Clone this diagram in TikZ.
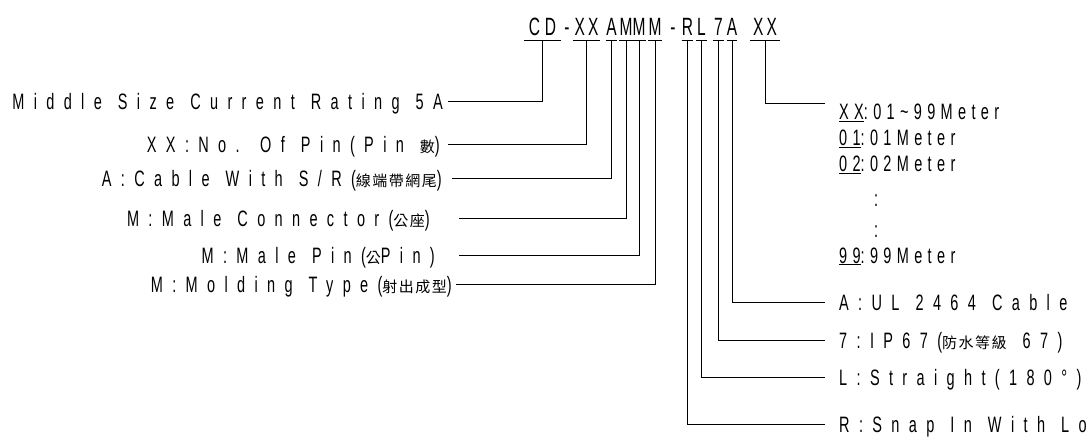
\documentclass[tikz,border=0pt]{standalone}
\usepackage{fontspec}
\setmainfont{Liberation Sans}
\newfontfamily\cadfont{Liberation Sans}[FakeStretch=0.65, LetterSpace=42, WordSpace=1.2]
\newfontfamily\meterfont{Liberation Sans}[FakeStretch=0.65, LetterSpace=24]
\newfontfamily\codefont{Liberation Sans}[FakeStretch=0.62]
\newfontfamily\cjkfont{Noto Sans CJK TC}[LetterSpace=10]
\newcommand{\zh}[1]{{\cjkfont\fontsize{15}{16}\selectfont #1}}
\tikzset{
  lbl/.style={font=\cadfont\fontsize{22.3}{24}\selectfont, inner sep=0pt, text height=16pt, text depth=0pt},
  meterlbl/.style={lbl, font=\meterfont\fontsize{22.3}{24}\selectfont},
  codechar/.style={font=\codefont\fontsize{25}{27}\selectfont, inner xsep=0pt, inner ysep=5pt, text height=18pt, text depth=0pt, anchor=south},
  lead/.style={line width=1pt},
}

\begin{document}
\begin{tikzpicture}[x=1pt,y=-1pt]
  \clip (0,0) rectangle (1091,446);
  % part number
  \node[codechar, minimum width=37pt] (cd) at (542.5,41) {C\kern5pt D};
  \node[codechar] (dashA) at (567,41) {-};
  \node[codechar, minimum width=27pt] (xx) at (586.5,41) {X\kern3pt X};
  \node[codechar, minimum width=11pt] (a) at (611.5,41) {A};
  \node[codechar, minimum width=12pt] (m1) at (626,41) {M};
  \node[codechar, minimum width=12pt] (m2) at (639,41) {M};
  \node[codechar, minimum width=12pt] (m3) at (655,41) {M};
  \node[codechar] (dashB) at (673,41) {-};
  \node[codechar, minimum width=11pt] (r) at (687.5,41) {R};
  \node[codechar, minimum width=11pt] (l) at (701.5,41) {L};
  \node[codechar, minimum width=11pt] (seven) at (718.5,41) {7};
  \node[codechar, minimum width=10pt] (a2) at (732,41) {A};
  \node[codechar, minimum width=30pt] (xx2) at (765,41) {X\kern3pt X};
  \foreach \n in {cd,xx,a,m1,m2,m3,r,l,seven,a2,xx2}{\draw[lead] (\n.south west) -- (\n.south east);}

  % left labels
  \node[lbl, anchor=east] (midsize) at (443,102) {Middle Size Current Rating 5A};
  \node[lbl, anchor=east] (nopin) at (440,145) {XX:No. Of Pin(Pin \zh{數})};
  \node[lbl, anchor=east] (cable) at (442,179) {A:Cable With S/R(\zh{線端帶網尾})};
  \node[lbl, anchor=east] (connector) at (430,219) {M:Male Connector(\zh{公座})};
  \node[lbl, anchor=east] (malepin) at (435,255) {M:Male Pin(\zh{公}Pin)};
  \node[lbl, anchor=east] (molding) at (452,284) {M:Molding Type(\zh{射出成型})};
  \draw[lead] (cd.south) |- ([xshift=5pt]midsize.east);
  \draw[lead] (xx.south) |- ([xshift=8pt]nopin.east);
  \draw[lead] (a.south) |- ([xshift=10pt]cable.east);
  \draw[lead] (m1.south) |- ([xshift=29pt]connector.east);
  \draw[lead] (m2.south) |- ([xshift=24pt]malepin.east);
  \draw[lead] (m3.south) |- ([xshift=4pt]molding.east);

  % right labels
  \node[meterlbl, anchor=west] (meter) at (839,112) {\underline{XX}:01\textasciitilde99Meter};
  \node[meterlbl, anchor=west] (m01) at (839,138) {\underline{01}:01Meter};
  \node[meterlbl, anchor=west] (m02) at (839,164) {\underline{02}:02Meter};
  \node[meterlbl] (dotsA) at (876,199) {:};
  \node[meterlbl] (dotsB) at (876,229) {:};
  \node[meterlbl, anchor=west] (m99) at (839,255) {\underline{99}:99Meter};
  \node[lbl, anchor=west] (cableul) at (839,302) {A:UL 2464 Cable};
  \node[lbl, anchor=west] (ip) at (839,340) {7:IP67(\zh{防水等級} 67)};
  \node[lbl, anchor=west] (straight) at (839,377) {L:Straight(180°)};
  \node[lbl, anchor=west] (snap) at (839,424) {R:Snap In With Lock};
  \draw[lead] (xx2.south) |- ([xshift=-14pt]meter.north west);
  \draw[lead] (a2.south) |- ([xshift=-14pt]cableul.west);
  \draw[lead] (seven.south) |- ([xshift=-14pt]ip.west);
  \draw[lead] (l.south) |- ([xshift=-14pt]straight.west);
  \draw[lead] (r.south) |- ([xshift=-14pt]snap.west);
\end{tikzpicture}
\end{document}
